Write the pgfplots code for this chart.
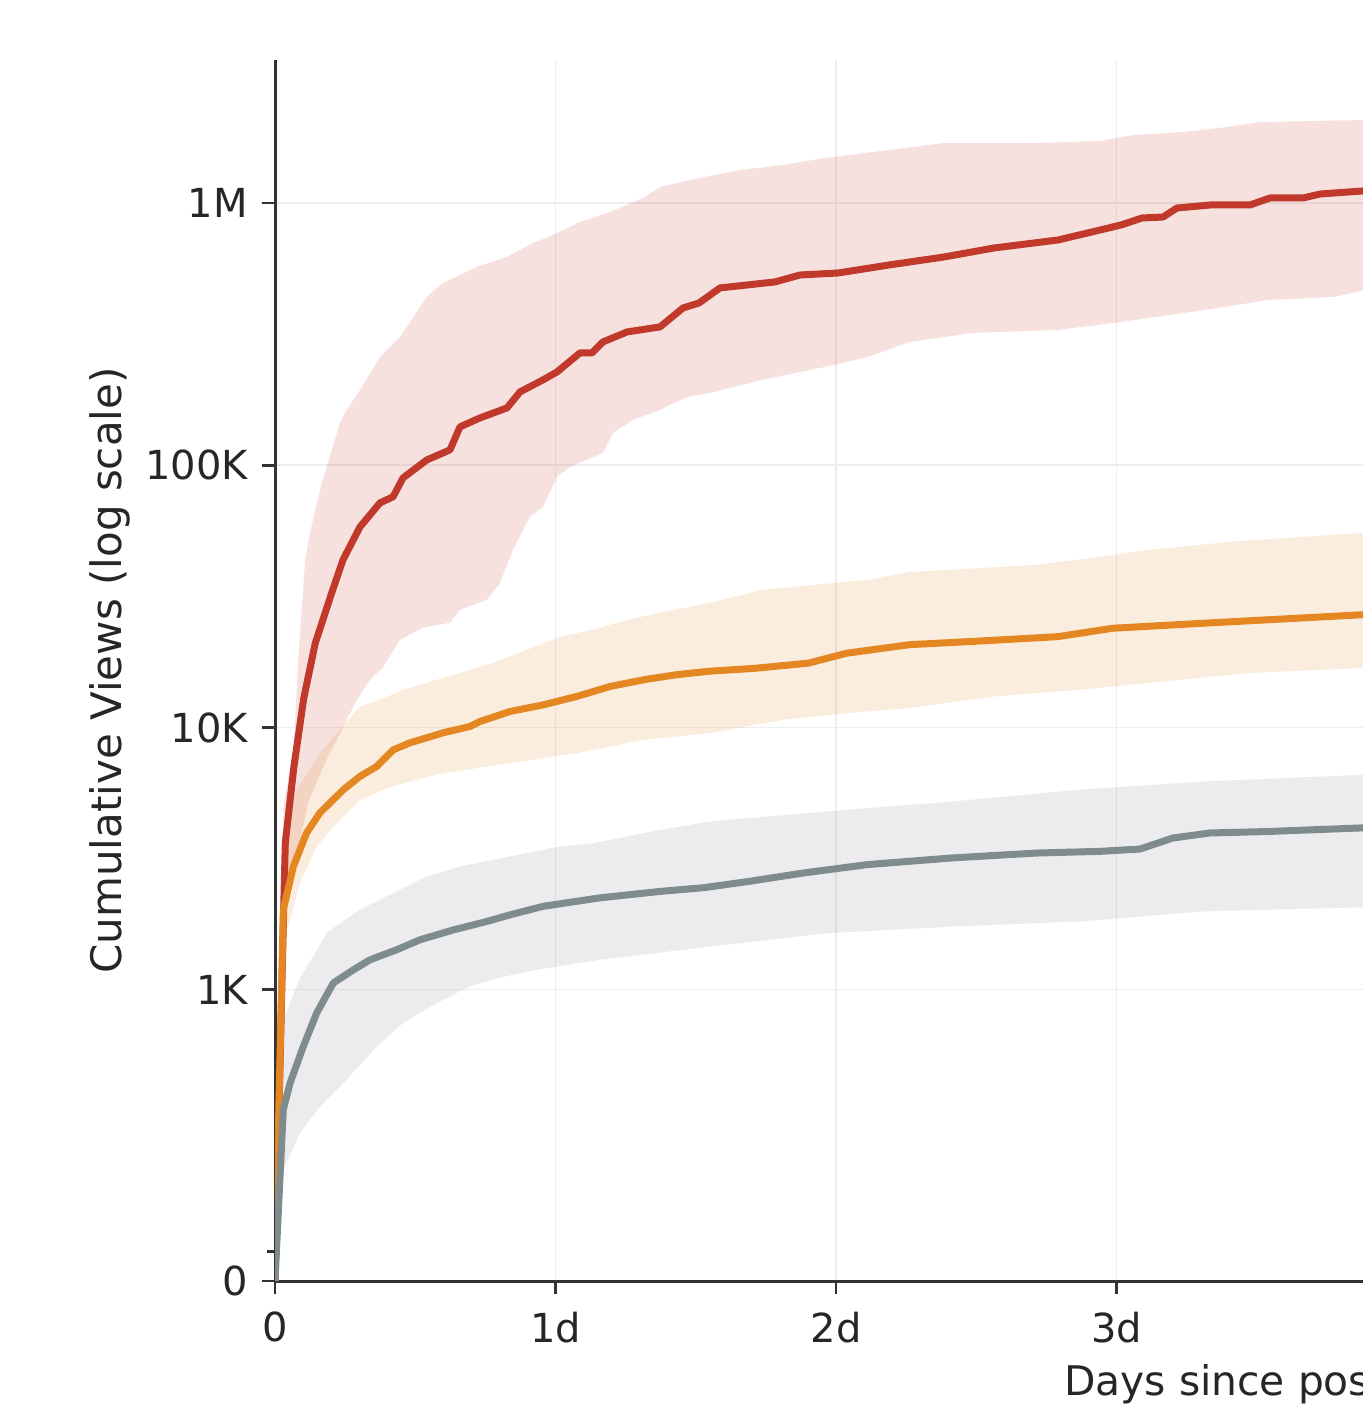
\documentclass[border=0pt]{standalone}
\usepackage{fontspec}
\setmainfont{DejaVu Sans}
\usepackage{pgfplots}
\pgfplotsset{compat=1.18}
\usepgfplotslibrary{fillbetween}
\definecolor{cred}{HTML}{C0392B}
\definecolor{corange}{RGB}{228,134,34}
\definecolor{cgray}{HTML}{7F8C8D}
\definecolor{cgrayfill}{RGB}{125,130,140}
% symlog (linthresh 1K, linscale 1); values in thousands of views
\pgfplotsset{table/symlog/.style={y expr={ifthenelse(\thisrow{y}>1, 1.111111+ln(max(\thisrow{y},1))/2.302585, 1.111111*\thisrow{y})}}}
\begin{document}
\begin{tikzpicture}
\begin{axis}[
  at={(0,0)}, anchor=south west,
  scale only axis, width=490.875pt, height=305.25pt,
  xmin=0, xmax=7, ymin=0, ymax=4.657,
  axis lines=left,
  axis line style={-, draw=black!80, line width=0.75pt},
  xtick={0,1,2,3}, xticklabels={0,1d,2d,3d},
  ytick={0,1.111111,2.111111,3.111111,4.111111}, yticklabels={0,1K,10K,100K,1M},
  minor ytick={0.111111},
  tick align=outside,
  major tick length=3.25pt, minor tick length=2pt,
  every tick/.style={draw=black!80, line width=0.7pt},
  grid=major, major grid style={draw=black!7, line width=0.4pt},
  minor grid style={draw=none},
  /pgf/number format/assume math mode=true,
  tick label style={font=\fontsize{10}{12}\selectfont, text=black!85},
  xticklabel style={yshift=-1pt},
  label style={text=black!85},
  xlabel={Days since posting}, ylabel={Cumulative Views (log scale)},
  xlabel style={font=\fontsize{10.2}{12}\selectfont, at={(axis description cs:0.5,-0.09337)}, anchor=base},
  ylabel style={font=\fontsize{10.5}{12}\selectfont, at={(axis description cs:-0.0780,0.5)}, anchor=base},
]
% ---------- red band ----------
\addplot[name path=RU, draw=none, forget plot] table[symlog] {
x y
0 0
0.031 5.0
0.0667 8.59
0.0845 19.4
0.108 44.0
0.1248 55.2
0.1665 85.7
0.1843 98.6
0.2317 145.1
0.2556 162.7
0.303 193.9
0.3743 259
0.4456 308.8
0.5408 438.5
0.5989 496
0.7191 570.7
0.826 623
0.9198 704.6
0.9911 756
1.0873 847
1.1943 924.8
1.312 1046
1.3725 1151.9
1.5116 1246.7
1.6613 1337.6
1.811 1397.6
1.9608 1486
2.189 1594
2.385 1695
2.713 1695
2.941 1725
3.0588 1818
3.237 1867
3.394 1951
3.5116 2038
3.875 2074
3.95 2090
};
\addplot[name path=RL, draw=none, forget plot] table[symlog] {
x y
0 0
0.031 1.30
0.0428 2.13
0.0724 3.08
0.1201 5.26
0.1914 7.87
0.221 8.98
0.2424 10.06
0.2923 12.75
0.3387 15.2
0.385 17.0
0.4456 21.6
0.5276 24.0
0.6239 25.1
0.6595 28.1
0.7558 30.7
0.8021 35.6
0.8485 47.6
0.9091 63.6
0.9554 69.4
1.0053 90.3
1.0517 98.6
1.1693 111.5
1.205 132.9
1.2763 149
1.3725 162.7
1.4688 182.3
1.5508 188.8
1.7362 211.7
1.9608 237.3
2.1141 259
2.2638 295.5
2.4884 319.8
2.7914 328.3
3.016 352.1
3.3155 391.3
3.5437 427.2
3.7718 438.5
3.875 462.4
3.95 470
};
\addplot[fill=cred, fill opacity=0.15, draw=none, forget plot] fill between[of=RU and RL];
% ---------- orange band ----------
\addplot[name path=OU, draw=none, forget plot] table[symlog] {
x y
0 0
0.0296 3.51
0.0724 5.69
0.1558 7.87
0.22 9.55
0.303 11.99
0.3982 13.09
0.4563 13.92
0.5408 14.81
0.6595 16.16
0.7772 17.65
0.8984 19.78
1.016 22.2
1.1337 23.6
1.2549 25.7
1.3725 27.4
1.5508 29.9
1.7362 33.5
2.1141 36.6
2.2638 39.2
2.713 41.7
2.9412 44.8
3.1194 47.6
3.4153 51.2
3.875 55.2
3.95 55.6
};
\addplot[name path=OL, draw=none, forget plot] table[symlog] {
x y
0 0
0.0303 1.19
0.0417 1.65
0.0891 2.56
0.1487 3.52
0.22 4.32
0.303 5.30
0.3851 5.79
0.4813 6.23
0.6 6.70
0.6834 6.90
0.8378 7.31
0.9566 7.64
1.0755 7.99
1.1943 8.46
1.313 8.98
1.432 9.24
1.5508 9.52
1.8118 10.70
2.0374 11.34
2.2635 11.86
2.5644 13.13
2.8653 13.92
3.1658 14.98
3.4674 16.12
3.875 16.85
3.95 17.0
};
\addplot[fill=corange, fill opacity=0.15, draw=none, forget plot] fill between[of=OU and OL];
% ---------- gray band ----------
\addplot[name path=GU, draw=none, forget plot] table[symlog] {
x y
0 0
0.0296 0.897
0.0891 1.11
0.1365 1.34
0.1843 1.65
0.303 2.02
0.4218 2.34
0.5408 2.70
0.6595 2.95
0.7783 3.13
0.8974 3.32
1.016 3.52
1.1348 3.62
1.2538 3.84
1.3725 4.07
1.5508 4.38
1.9622 4.78
2.4135 5.22
2.8653 5.79
3.3166 6.23
3.875 6.60
3.95 6.65
};
\addplot[name path=GL, draw=none, forget plot] table[symlog] {
x y
0 0
0.0296 0.381
0.0891 0.508
0.1604 0.599
0.2556 0.691
0.3626 0.805
0.4574 0.886
0.5765 0.954
0.6952 1.03
0.8139 1.12
0.933 1.19
1.1586 1.30
1.5508 1.46
1.9622 1.64
2.4135 1.74
2.8653 1.82
3.3166 1.99
3.875 2.06
3.95 2.07
};
\addplot[fill=cgrayfill, fill opacity=0.15, draw=none, forget plot] fill between[of=GU and GL];
% ---------- lines ----------
\addplot[cred, line width=1.75pt, line join=round] table[symlog] {
x y
0 0
0.031 2.05
0.0367 3.63
0.0667 6.98
0.1023 12.89
0.1437 21.0
0.2021 32.6
0.2424 43.6
0.303 58.2
0.3743 71.9
0.4207 75.8
0.4563 89.5
0.5419 104.9
0.6239 114.5
0.6595 140.1
0.7308 151.6
0.8271 165.5
0.8734 190.5
0.9554 211.7
1.0053 227
1.0873 268.3
1.1301 268.3
1.1693 295.5
1.2549 322.6
1.3725 337.1
1.4545 398.2
1.5116 416
1.5865 474.8
1.7825 500.4
1.8717 531.9
2.0071 541.3
2.189 580.8
2.385 623
2.5633 674.3
2.7914 723.3
2.9412 789.6
3.016 825
3.0909 877.4
3.1658 885
3.2157 957.9
3.3333 983.5
3.4759 983.5
3.5472 1046
3.6649 1046
3.7255 1083
3.8752 1112
3.95 1125
};
\addplot[corange, line width=1.75pt, line join=round] table[symlog] {
x y
0 0
0.0297 2.02
0.0654 2.95
0.113 3.97
0.1604 4.73
0.2436 5.79
0.303 6.51
0.3624 7.10
0.4219 8.22
0.4813 8.74
0.6 9.55
0.6952 10.09
0.7308 10.54
0.8378 11.51
0.9566 12.20
1.0755 13.13
1.1943 14.33
1.313 15.2
1.432 15.9
1.5508 16.4
1.7066 16.8
1.902 17.6
2.0374 19.2
2.2635 20.7
2.4891 21.3
2.79 22.2
2.9857 23.9
3.3155 25.0
3.871 26.9
3.95 27.1
};
\addplot[cgray, line width=1.75pt, line join=round] table[symlog] {
x y
0 0
0.0296 0.588
0.0535 0.679
0.1009 0.805
0.1487 0.920
0.2078 1.06
0.2791 1.19
0.3387 1.30
0.4339 1.42
0.5169 1.55
0.6357 1.69
0.7548 1.82
0.8378 1.93
0.9565 2.08
1.1586 2.24
1.3725 2.37
1.53 2.45
1.6916 2.59
1.887 2.79
2.1127 3.00
2.4135 3.18
2.7148 3.32
2.9412 3.37
3.0838 3.44
3.2014 3.79
3.3333 3.96
3.5365 4.01
3.875 4.14
3.95 4.16
};
\end{axis}
\pgfresetboundingbox
\useasboundingbox (-68.75pt,-32.75pt) rectangle (271.75pt,320.25pt);
\end{tikzpicture}
\end{document}
